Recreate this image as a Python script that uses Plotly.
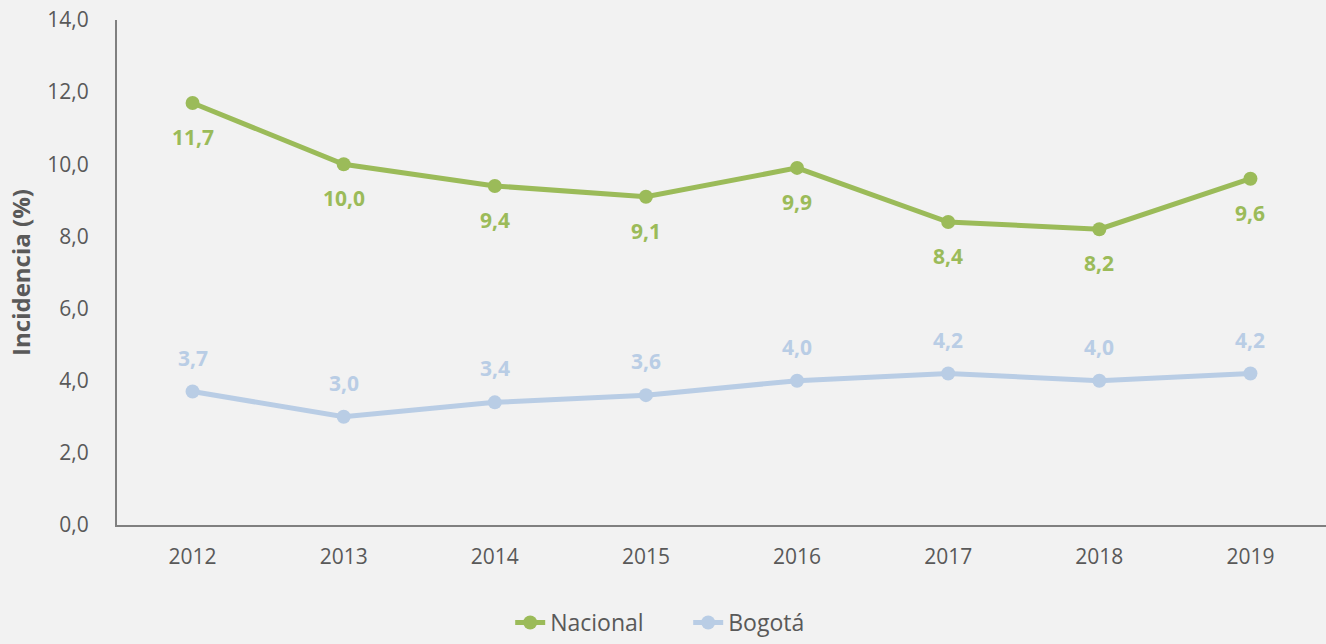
import plotly.graph_objects as go

# data
years = ["2012", "2013", "2014", "2015", "2016", "2017", "2018", "2019"]
nacional = [11.7, 10.0, 9.4, 9.1, 9.9, 8.4, 8.2, 9.6]
bogota = [3.7, 3.0, 3.4, 3.6, 4.0, 4.2, 4.0, 4.2]

green = "#9BBB59"
blue = "#B9CDE5"
grey = "#595959"
font = "Open Sans"

fig = go.Figure()
fig.add_trace(go.Scatter(x=years, y=nacional, name="Nacional", mode="lines+markers",
                         line=dict(color=green, width=5), marker=dict(size=14, color=green)))
fig.add_trace(go.Scatter(x=years, y=bogota, name="Bogotá", mode="lines+markers",
                         line=dict(color=blue, width=5), marker=dict(size=14, color=blue)))

# data labels: Nacional below, Bogotá above (x as category index)
for i, v in enumerate(nacional):
    fig.add_annotation(x=i, y=v, text=f"<b>{v:.1f}</b>".replace(".", ","), showarrow=False,
                       yshift=-34, font=dict(family=font, size=21, color=green))
for i, v in enumerate(bogota):
    fig.add_annotation(x=i, y=v, text=f"<b>{v:.1f}</b>".replace(".", ","), showarrow=False,
                       yshift=34, font=dict(family=font, size=21, color=blue))

fig.update_layout(
    width=1326, height=644,
    margin=dict(l=117, r=0, t=20, b=119),
    paper_bgcolor="#F2F2F2", plot_bgcolor="#F2F2F2",
    font=dict(family=font, size=21, color=grey),
    showlegend=True,
    legend=dict(orientation="h", xref="container", yref="container", x=0.519, xanchor="center",
                y=0.0, yanchor="bottom", font=dict(size=23, color=grey),
                entrywidth=133, entrywidthmode="pixels", traceorder="normal",
                bgcolor="rgba(0,0,0,0)"),
    xaxis=dict(type="category", range=[-0.5, 7.5], showline=True, linecolor="#808080", linewidth=2,
               showgrid=False, zeroline=False, ticks="", ticklabelstandoff=12),
    yaxis=dict(range=[0, 14], dtick=2, tickformat=".1f", showline=True, linecolor="#808080",
               linewidth=2, showgrid=False, zeroline=False, ticks="", ticklabelstandoff=22,
               title=dict(text="<b>Incidencia (%)</b>", font=dict(size=24, color=grey), standoff=10)),
    separators=",.",
)

fig.write_html("out.html", config={"displayModeBar": False},
               post_script="document.body.style.margin='0';")
